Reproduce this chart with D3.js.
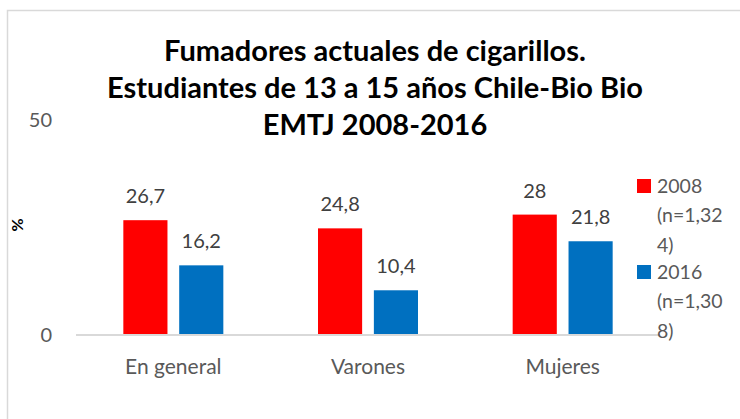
<!DOCTYPE html>
<html>
<head>
<meta charset="utf-8">
<script src="https://cdn.jsdelivr.net/npm/d3@7"></script>
<style>
  body { margin: 0; background: #fff; }
  text { font-family: Lato, "Open Sans", sans-serif; }
</style>
</head>
<body>
<div id="chart"></div>
<script>
const categories = ["En general", "Varones", "Mujeres"];
const seriesNames = ["2008", "2016"];
const legendLines = [["2008", "(n=1,32", "4)"], ["2016", "(n=1,30", "8)"]];
const values2008 = [26.7, 24.8, 28];
const values2016 = [16.2, 10.4, 21.8];
const yTicks = [0, 50];
const titleLines = ["Fumadores actuales de cigarillos.", "Estudiantes de 13 a 15 años Chile-Bio Bio", "EMTJ 2008-2016"];
const colors = ["#ff0000", "#0070c0"];

const w = 740, h = 419;
const svg = d3.select("#chart").append("svg").attr("width", w).attr("height", h);

// chart frame
svg.append("rect").attr("x", 7.5).attr("y", 10.5).attr("width", 760).attr("height", 440)
  .attr("fill", "#fff").attr("stroke", "#d9d9d9").attr("stroke-width", 1.5);

const x0 = d3.scaleBand().domain(categories).range([76, 660]);
const x1 = d3.scaleBand().domain(seriesNames)
  .range([x0.bandwidth() / 2 - 50, x0.bandwidth() / 2 + 50]).paddingInner(0.21);
const y = d3.scaleLinear().domain([0, 50]).range([335, 120]);

const fmt = (v) => String(v).replace(".", ",");

// title
svg.append("g").selectAll("text").data(titleLines).enter().append("text")
  .attr("x", 375)
  .attr("y", (d, i) => 61 + i * 37)
  .attr("text-anchor", "middle")
  .attr("font-size", 29).attr("font-weight", "bold").attr("fill", "#000")
  .text((d) => d);

// y axis labels
svg.append("g").selectAll("text").data(yTicks).enter().append("text")
  .attr("x", 52).attr("y", (d) => y(d)).attr("dy", "0.35em")
  .attr("text-anchor", "end").attr("font-size", 20).attr("fill", "#595959")
  .text((d) => d);

svg.append("text").attr("transform", "translate(17,225) rotate(-90)")
  .attr("text-anchor", "middle").attr("dy", "0.35em")
  .attr("font-size", 16).attr("font-weight", "bold").attr("fill", "#000").text("%");

// bars
const rows = categories.map((c, i) => ({ cat: c, vals: [values2008[i], values2016[i]] }));
const groups = svg.append("g").selectAll("g").data(rows).enter().append("g")
  .attr("transform", (d) => `translate(${x0(d.cat)},0)`);
groups.selectAll("rect").data((d) => d.vals.map((v, j) => ({ s: seriesNames[j], v, j }))).enter().append("rect")
  .attr("x", (d) => x1(d.s)).attr("width", x1.bandwidth())
  .attr("y", (d) => y(d.v)).attr("height", (d) => y(0) - y(d.v))
  .attr("fill", (d) => colors[d.j]);
groups.selectAll("text").data((d) => d.vals.map((v, j) => ({ s: seriesNames[j], v, j }))).enter().append("text")
  .attr("x", (d) => x1(d.s) + x1.bandwidth() / 2).attr("y", (d) => y(d.v) - 24).attr("dy", "0.35em")
  .attr("text-anchor", "middle").attr("font-size", 20).attr("fill", "#404040")
  .text((d) => fmt(d.v));

// baseline
svg.append("line").attr("x1", 76).attr("x2", 660).attr("y1", y(0)).attr("y2", y(0))
  .attr("stroke", "#d9d9d9").attr("stroke-width", 2);

// category labels
svg.append("g").selectAll("text").data(categories).enter().append("text")
  .attr("x", (d) => x0(d) + x0.bandwidth() / 2).attr("y", 374)
  .attr("text-anchor", "middle").attr("font-size", 21).attr("fill", "#595959")
  .text((d) => d);

// legend
const lg = svg.append("g").selectAll("g").data(legendLines).enter().append("g")
  .attr("transform", (d, i) => `translate(637,${179 + i * 86})`);
lg.append("rect").attr("width", 14).attr("height", 14).attr("fill", (d, i) => colors[i]);
lg.selectAll("text").data((d) => d).enter().append("text")
  .attr("x", 20).attr("y", (d, i) => 7 + i * 29.5).attr("dy", "0.35em")
  .attr("font-size", 19.5).attr("fill", "#595959").text((d) => d);
</script>
</body>
</html>
